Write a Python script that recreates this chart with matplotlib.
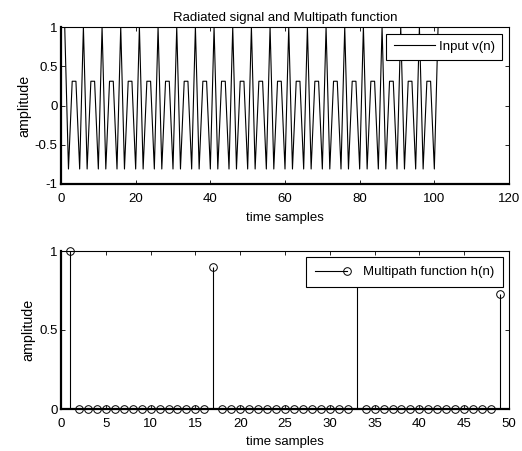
import numpy as np
import matplotlib
matplotlib.use("Agg")
import matplotlib.pyplot as plt
from matplotlib.legend_handler import HandlerLine2D
from matplotlib.lines import Line2D

plt.rcParams['font.family'] = ['Liberation Sans', 'DejaVu Sans']

# Radiated signal v(n)
v = [
    1, -0.809, 0.309, 0.309, -0.809,
    1, -0.809, 0.309, 0.309, -0.809,
    1, -0.809, 0.309, 0.309, -0.809,
    1, -0.809, 0.309, 0.309, -0.809,
    1, -0.809, 0.309, 0.309, -0.809,
    1, -0.809, 0.309, 0.309, -0.809,
    1, -0.809, 0.309, 0.309, -0.809,
    1, -0.809, 0.309, 0.309, -0.809,
    1, -0.809, 0.309, 0.309, -0.809,
    1, -0.809, 0.309, 0.309, -0.809,
    1, -0.809, 0.309, 0.309, -0.809,
    1, -0.809, 0.309, 0.309, -0.809,
    1, -0.809, 0.309, 0.309, -0.809,
    1, -0.809, 0.309, 0.309, -0.809,
    1, -0.809, 0.309, 0.309, -0.809,
    1, -0.809, 0.309, 0.309, -0.809,
    1, -0.809, 0.309, 0.309, -0.809,
    1, -0.809, 0.309, 0.309, -0.809,
    1, -0.809, 0.309, 0.309, -0.809,
    1, -0.809, 0.309, 0.309, -0.809,
    1,
]

# Multipath function h(n)
h = [
    1, 0, 0, 0, 0, 0, 0, 0, 0, 0, 0, 0, 0, 0, 0, 0,
    0.9, 0, 0, 0, 0, 0, 0, 0, 0, 0, 0, 0, 0, 0, 0, 0,
    0.81, 0, 0, 0, 0, 0, 0, 0, 0, 0, 0, 0, 0, 0, 0, 0,
    0.729,
]

top_xticks = [0, 20, 40, 60, 80, 100, 120]
top_yticks = [-1, -0.5, 0, 0.5, 1]
top_yticklabels = ['-1', '-0.5', '0', '0.5', '1']
bot_xticks = [0, 5, 10, 15, 20, 25, 30, 35, 40, 45, 50]
bot_yticks = [0, 0.5, 1]
bot_yticklabels = ['0', '0.5', '1']

W, H = 522, 451
fig = plt.figure(figsize=(W / 100, H / 100), dpi=100)

def px_axes(l, t, r, b):
    return fig.add_axes([l / W, 1 - b / H, (r - l) / W, (b - t) / H])

fs = 9.5
fs_y = 10.3

def style(ax):
    ax.tick_params(direction='in', length=3, width=0.6, labelsize=fs,
                   top=True, right=True, colors='black')
    ax.tick_params(axis='x', pad=6.5)
    ax.tick_params(axis='y', pad=2.5)
    for s in ['left', 'bottom']:
        ax.spines[s].set_linewidth(1.6)
    for s in ['top', 'right']:
        ax.spines[s].set_linewidth(0.8)


class EndMarkerHandler(HandlerLine2D):
    def create_artists(self, legend, orig_handle, xdescent, ydescent,
                       width, height, fontsize, trans):
        y = (height - ydescent) / 2
        line = Line2D([-xdescent, -xdescent + width], [y, y],
                      color='black', lw=0.8, marker='o', markevery=[1],
                      markersize=5.5, markerfacecolor='none',
                      markeredgecolor='black', markeredgewidth=0.7)
        line.set_transform(trans)
        return [line]

# Top axes
ax1 = px_axes(61, 27, 509, 184)
n1 = np.arange(1, len(v) + 1)
ax1.plot(n1, v, color='black', lw=0.8, label='Input v(n)')
ax1.set_xlim(0, 120)
ax1.set_ylim(-1, 1)
ax1.set_xticks(top_xticks)
ax1.set_yticks(top_yticks)
ax1.set_yticklabels(top_yticklabels)
ax1.set_title('Radiated signal and Multipath function', fontsize=fs, pad=4)
ax1.set_xlabel('time samples', fontsize=fs, labelpad=5)
ax1.set_ylabel('amplitude', fontsize=fs_y, labelpad=2.5)
style(ax1)
leg1 = ax1.legend(loc='upper right', fontsize=fs, frameon=True, fancybox=False,
                  edgecolor='black', framealpha=1, borderaxespad=0.5,
                  handlelength=3.1, handletextpad=0.35, borderpad=0.55)
leg1.get_frame().set_linewidth(0.8)

# Bottom axes
ax2 = px_axes(61, 251, 509, 409)
n2 = np.arange(1, len(h) + 1)
ml, sl, bl = ax2.stem(n2, h, linefmt='k-', markerfmt='o', basefmt='k-')
ml.set_markerfacecolor('none')
ml.set_markeredgecolor('black')
ml.set_markersize(5.5)
ml.set_markeredgewidth(0.7)
sl.set_linewidth(0.8)
bl.set_linewidth(1.2)
ml.set_clip_on(False)
ax2.set_xlim(0, 50)
ax2.set_ylim(0, 1)
ax2.set_xticks(bot_xticks)
ax2.set_yticks(bot_yticks)
ax2.set_yticklabels(bot_yticklabels)
ax2.set_xlabel('time samples', fontsize=fs, labelpad=4.5)
ax2.set_ylabel('amplitude', fontsize=fs_y, labelpad=2.5)
style(ax2)
proxy = Line2D([], [], color='black', lw=0.8, marker='o')
leg2 = ax2.legend([proxy], ['Multipath function h(n)'], loc='upper right',
                  fontsize=fs, frameon=True, fancybox=False,
                  edgecolor='black', framealpha=1, borderaxespad=0.45,
                  handlelength=2.4, handletextpad=1.2, borderpad=0.68,
                  handler_map={proxy: EndMarkerHandler()})
leg2.get_frame().set_linewidth(0.8)
leg2.set_zorder(10)

fig.savefig('out.png', dpi=100)
